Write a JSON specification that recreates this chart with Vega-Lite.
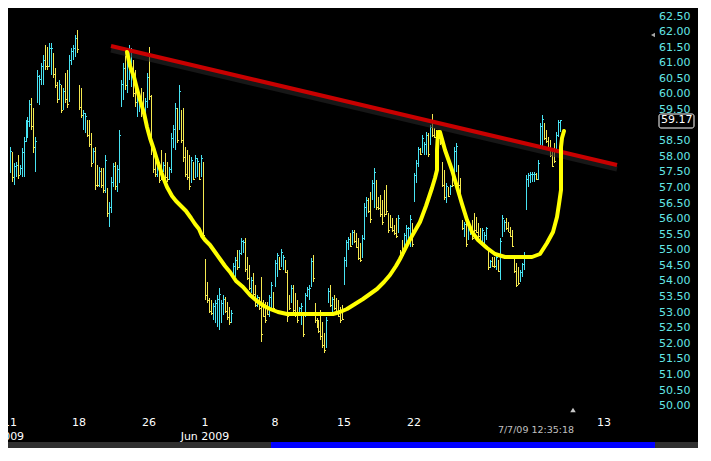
{
"$schema": "https://vega.github.io/schema/vega-lite/v6.json",
"width": 690,
"height": 440,
"autosize": {"type": "none"},
"padding": {"left": 8, "top": 8, "right": 13, "bottom": 13},
"background": "#ffffff",
"config": {
"view": {"fill": "#000000", "stroke": null},
"font": "DejaVu Sans",
"axis": {"disable": true}
},
"datasets": {
"bars": [
{"n":0,"o":57.6,"h":58.32,"l":57.47,"c":58.2},
{"n":1,"o":58.1,"h":58.16,"l":57.2,"c":57.35},
{"n":2,"o":57.2,"h":57.8,"l":57.09,"c":57.7},
{"n":3,"o":57.45,"h":57.84,"l":57.36,"c":57.75},
{"n":4,"o":57.95,"h":58.05,"l":57.28,"c":57.4},
{"n":5,"o":57.45,"h":57.73,"l":57.41,"c":57.65},
{"n":6,"o":57.5,"h":58.28,"l":57.36,"c":58.15},
{"n":7,"o":57.6,"h":58.64,"l":57.36,"c":58.5},
{"n":8,"o":58.6,"h":59.18,"l":58.48,"c":59.05},
{"n":9,"o":58.75,"h":59.28,"l":58.6,"c":59.15},
{"n":10,"o":59.1,"h":59.82,"l":58.96,"c":59.7},
{"n":11,"o":59.75,"h":59.88,"l":58.86,"c":59.0},
{"n":12,"o":59.4,"h":59.56,"l":58.12,"c":58.3},
{"n":13,"o":57.7,"h":58.64,"l":57.52,"c":58.5},
{"n":14,"o":59.85,"h":60.78,"l":59.72,"c":60.6},
{"n":15,"o":59.8,"h":60.62,"l":59.66,"c":60.5},
{"n":16,"o":60.4,"h":61.01,"l":60.3,"c":60.9},
{"n":17,"o":60.45,"h":61.26,"l":60.3,"c":61.1},
{"n":18,"o":61.45,"h":61.59,"l":60.78,"c":60.9},
{"n":19,"o":61.4,"h":61.53,"l":60.78,"c":60.9},
{"n":20,"o":61.0,"h":61.65,"l":60.89,"c":61.5},
{"n":21,"o":60.8,"h":61.65,"l":60.62,"c":61.5},
{"n":22,"o":61.2,"h":61.33,"l":60.53,"c":60.65},
{"n":23,"o":60.75,"h":60.85,"l":60.21,"c":60.3},
{"n":24,"o":60.3,"h":60.41,"l":59.72,"c":59.85},
{"n":25,"o":59.9,"h":60.46,"l":59.82,"c":60.35},
{"n":26,"o":60.2,"h":60.3,"l":59.4,"c":59.5},
{"n":27,"o":59.6,"h":60.21,"l":59.5,"c":60.1},
{"n":28,"o":60.55,"h":60.69,"l":59.72,"c":59.85},
{"n":29,"o":60.6,"h":60.78,"l":59.56,"c":59.7},
{"n":30,"o":59.9,"h":61.26,"l":59.77,"c":61.1},
{"n":31,"o":61.0,"h":61.49,"l":60.94,"c":61.4},
{"n":32,"o":61.15,"h":61.59,"l":61.1,"c":61.5},
{"n":33,"o":61.3,"h":61.91,"l":61.21,"c":61.8},
{"n":34,"o":61.95,"h":62.07,"l":61.33,"c":61.45},
{"n":35,"o":60.2,"h":60.3,"l":59.5,"c":59.6},
{"n":36,"o":60.1,"h":60.21,"l":59.24,"c":59.35},
{"n":37,"o":58.95,"h":59.5,"l":58.86,"c":59.4},
{"n":38,"o":58.85,"h":59.4,"l":58.76,"c":59.3},
{"n":39,"o":59.1,"h":59.18,"l":58.63,"c":58.7},
{"n":40,"o":59.05,"h":59.18,"l":58.31,"c":58.4},
{"n":41,"o":58.6,"h":58.76,"l":57.67,"c":57.8},
{"n":42,"o":57.85,"h":58.28,"l":57.8,"c":58.2},
{"n":43,"o":58.2,"h":58.31,"l":56.93,"c":57.1},
{"n":44,"o":57.65,"h":57.73,"l":57.03,"c":57.1},
{"n":45,"o":57.1,"h":57.67,"l":57.03,"c":57.55},
{"n":46,"o":57.55,"h":57.64,"l":57.0,"c":57.1},
{"n":47,"o":57.5,"h":57.64,"l":56.83,"c":56.95},
{"n":48,"o":57.0,"h":58.05,"l":56.83,"c":57.9},
{"n":49,"o":56.9,"h":57.0,"l":56.06,"c":56.2},
{"n":50,"o":55.85,"h":56.55,"l":55.74,"c":56.4},
{"n":51,"o":56.3,"h":57.35,"l":56.19,"c":57.2},
{"n":52,"o":57.15,"h":57.8,"l":57.03,"c":57.7},
{"n":53,"o":57.7,"h":57.83,"l":56.93,"c":57.05},
{"n":54,"o":57.0,"h":57.73,"l":56.87,"c":57.6},
{"n":55,"o":57.3,"h":58.86,"l":57.16,"c":58.7},
{"n":56,"o":59.7,"h":60.46,"l":59.6,"c":60.35},
{"n":57,"o":59.95,"h":61.01,"l":59.82,"c":60.85},
{"n":58,"o":61.2,"h":61.33,"l":60.14,"c":60.3},
{"n":59,"o":60.2,"h":61.43,"l":60.05,"c":61.3},
{"n":60,"o":60.6,"h":61.59,"l":60.46,"c":61.45},
{"n":61,"o":60.4,"h":61.49,"l":60.24,"c":61.35},
{"n":62,"o":60.95,"h":61.1,"l":59.92,"c":60.05},
{"n":63,"o":60.65,"h":60.78,"l":59.6,"c":59.75},
{"n":64,"o":59.35,"h":60.14,"l":59.27,"c":60.05},
{"n":65,"o":59.5,"h":59.92,"l":59.44,"c":59.85},
{"n":66,"o":60.1,"h":60.21,"l":59.27,"c":59.4},
{"n":67,"o":60.0,"h":60.08,"l":59.4,"c":59.5},
{"n":68,"o":59.4,"h":59.88,"l":59.34,"c":59.8},
{"n":69,"o":59.7,"h":60.69,"l":59.56,"c":60.55},
{"n":70,"o":60.6,"h":61.52,"l":59.82,"c":59.95},
{"n":71,"o":59.85,"h":59.98,"l":58.05,"c":58.25},
{"n":72,"o":58.2,"h":58.31,"l":57.48,"c":57.6},
{"n":73,"o":58.0,"h":58.12,"l":57.35,"c":57.45},
{"n":74,"o":57.4,"h":57.89,"l":57.35,"c":57.8},
{"n":75,"o":57.7,"h":57.8,"l":57.16,"c":57.25},
{"n":76,"o":58.1,"h":58.22,"l":57.25,"c":57.35},
{"n":77,"o":57.55,"h":57.83,"l":57.51,"c":57.75},
{"n":78,"o":58.0,"h":58.12,"l":57.25,"c":57.35},
{"n":79,"o":57.75,"h":57.83,"l":57.19,"c":57.3},
{"n":80,"o":57.3,"h":57.67,"l":57.25,"c":57.6},
{"n":81,"o":57.6,"h":58.76,"l":57.48,"c":58.6},
{"n":82,"o":58.4,"h":59.02,"l":58.28,"c":58.9},
{"n":83,"o":58.35,"h":59.72,"l":58.22,"c":59.55},
{"n":84,"o":59.45,"h":59.56,"l":58.44,"c":58.55},
{"n":85,"o":59.0,"h":60.3,"l":58.86,"c":60.1},
{"n":86,"o":59.4,"h":59.5,"l":58.44,"c":58.55},
{"n":87,"o":59.4,"h":59.56,"l":57.83,"c":58.0},
{"n":88,"o":58.2,"h":58.31,"l":57.35,"c":57.45},
{"n":89,"o":58.1,"h":58.22,"l":57.25,"c":57.35},
{"n":90,"o":57.9,"h":58.05,"l":56.93,"c":57.05},
{"n":91,"o":57.25,"h":57.99,"l":57.16,"c":57.9},
{"n":92,"o":57.75,"h":57.83,"l":57.25,"c":57.3},
{"n":93,"o":57.4,"h":58.05,"l":57.32,"c":57.95},
{"n":94,"o":57.4,"h":57.96,"l":57.35,"c":57.85},
{"n":95,"o":57.7,"h":57.8,"l":57.25,"c":57.3},
{"n":96,"o":57.4,"h":58.05,"l":57.35,"c":57.95},
{"n":97,"o":57.7,"h":57.83,"l":55.39,"c":55.5},
{"n":98,"o":54.6,"h":54.72,"l":53.4,"c":53.55},
{"n":99,"o":53.9,"h":53.98,"l":53.3,"c":53.4},
{"n":100,"o":53.4,"h":53.46,"l":52.98,"c":53.05},
{"n":101,"o":53.35,"h":53.4,"l":52.92,"c":53.0},
{"n":102,"o":52.85,"h":53.3,"l":52.76,"c":53.2},
{"n":103,"o":52.8,"h":53.4,"l":52.66,"c":53.3},
{"n":104,"o":52.7,"h":53.56,"l":52.53,"c":53.45},
{"n":105,"o":52.6,"h":53.79,"l":52.44,"c":53.6},
{"n":106,"o":52.8,"h":53.4,"l":52.66,"c":53.3},
{"n":107,"o":53.0,"h":53.56,"l":52.92,"c":53.45},
{"n":108,"o":53.45,"h":53.5,"l":52.98,"c":53.05},
{"n":109,"o":53.25,"h":53.34,"l":52.76,"c":52.85},
{"n":110,"o":53.1,"h":53.18,"l":52.6,"c":52.7},
{"n":111,"o":52.7,"h":53.08,"l":52.66,"c":53.0},
{"n":112,"o":54.1,"h":54.59,"l":54.04,"c":54.5},
{"n":113,"o":54.2,"h":54.78,"l":54.14,"c":54.7},
{"n":114,"o":54.9,"h":55.01,"l":54.36,"c":54.45},
{"n":115,"o":54.5,"h":55.01,"l":54.43,"c":54.9},
{"n":116,"o":54.9,"h":55.39,"l":54.84,"c":55.3},
{"n":117,"o":54.95,"h":55.33,"l":54.91,"c":55.25},
{"n":118,"o":55.3,"h":55.39,"l":54.3,"c":54.4},
{"n":119,"o":54.7,"h":54.78,"l":54.04,"c":54.1},
{"n":120,"o":54.45,"h":54.52,"l":53.72,"c":53.8},
{"n":121,"o":53.7,"h":54.14,"l":53.62,"c":54.05},
{"n":122,"o":54.2,"h":54.27,"l":53.5,"c":53.6},
{"n":123,"o":53.8,"h":53.88,"l":53.18,"c":53.25},
{"n":124,"o":53.2,"h":53.56,"l":53.18,"c":53.5},
{"n":125,"o":53.45,"h":53.5,"l":53.08,"c":53.15},
{"n":126,"o":53.2,"h":54.14,"l":52.05,"c":52.3},
{"n":127,"o":53.35,"h":53.4,"l":52.85,"c":52.9},
{"n":128,"o":53.25,"h":53.34,"l":52.66,"c":52.75},
{"n":129,"o":53.3,"h":53.34,"l":52.92,"c":52.95},
{"n":130,"o":52.9,"h":53.56,"l":52.85,"c":53.5},
{"n":131,"o":53.2,"h":53.98,"l":53.08,"c":53.9},
{"n":132,"o":53.6,"h":53.66,"l":53.08,"c":53.15},
{"n":133,"o":53.9,"h":54.68,"l":53.82,"c":54.6},
{"n":134,"o":54.2,"h":54.91,"l":54.14,"c":54.85},
{"n":135,"o":54.75,"h":54.78,"l":54.36,"c":54.4},
{"n":136,"o":54.5,"h":55.04,"l":54.46,"c":54.95},
{"n":137,"o":54.4,"h":54.84,"l":54.36,"c":54.8},
{"n":138,"o":54.65,"h":54.68,"l":54.27,"c":54.3},
{"n":139,"o":54.3,"h":54.36,"l":52.69,"c":52.9},
{"n":140,"o":53.5,"h":53.56,"l":53.08,"c":53.15},
{"n":141,"o":53.35,"h":53.88,"l":53.3,"c":53.8},
{"n":142,"o":53.8,"h":53.88,"l":52.98,"c":53.1},
{"n":143,"o":53.55,"h":53.62,"l":52.85,"c":52.95},
{"n":144,"o":53.3,"h":53.4,"l":52.66,"c":52.75},
{"n":145,"o":52.95,"h":53.18,"l":52.92,"c":53.15},
{"n":146,"o":52.7,"h":53.3,"l":52.6,"c":53.2},
{"n":147,"o":52.9,"h":52.98,"l":52.21,"c":52.3},
{"n":148,"o":52.9,"h":53.62,"l":52.85,"c":53.55},
{"n":149,"o":53.55,"h":53.82,"l":53.5,"c":53.75},
{"n":150,"o":53.45,"h":53.88,"l":53.4,"c":53.8},
{"n":151,"o":53.9,"h":54.75,"l":53.82,"c":54.65},
{"n":152,"o":54.75,"h":54.84,"l":53.98,"c":54.1},
{"n":153,"o":53.25,"h":53.3,"l":52.66,"c":52.75},
{"n":154,"o":52.75,"h":52.82,"l":52.5,"c":52.55},
{"n":155,"o":52.7,"h":52.76,"l":52.34,"c":52.4},
{"n":156,"o":52.95,"h":53.08,"l":52.12,"c":52.25},
{"n":157,"o":52.6,"h":52.69,"l":51.86,"c":51.95},
{"n":158,"o":52.25,"h":52.34,"l":51.7,"c":51.8},
{"n":159,"o":51.95,"h":52.85,"l":51.86,"c":52.75},
{"n":160,"o":53.35,"h":53.79,"l":53.3,"c":53.7},
{"n":161,"o":53.8,"h":53.88,"l":53.18,"c":53.25},
{"n":162,"o":53.05,"h":53.5,"l":52.98,"c":53.45},
{"n":163,"o":53.5,"h":53.56,"l":53.08,"c":53.15},
{"n":164,"o":53.4,"h":53.46,"l":52.98,"c":53.05},
{"n":165,"o":53.35,"h":53.4,"l":52.85,"c":52.9},
{"n":166,"o":53.1,"h":53.18,"l":52.66,"c":52.75},
{"n":167,"o":53.15,"h":53.24,"l":52.76,"c":52.8},
{"n":168,"o":53.95,"h":54.78,"l":53.88,"c":54.7},
{"n":169,"o":54.55,"h":55.33,"l":54.46,"c":55.25},
{"n":170,"o":55.05,"h":55.42,"l":55.01,"c":55.35},
{"n":171,"o":55.5,"h":55.55,"l":55.1,"c":55.15},
{"n":172,"o":55.2,"h":55.65,"l":55.17,"c":55.6},
{"n":173,"o":55.6,"h":55.65,"l":55.23,"c":55.3},
{"n":174,"o":55.5,"h":55.55,"l":55.07,"c":55.1},
{"n":175,"o":55.3,"h":55.39,"l":54.68,"c":54.75},
{"n":176,"o":55.15,"h":55.23,"l":54.62,"c":54.7},
{"n":177,"o":54.8,"h":55.49,"l":54.75,"c":55.4},
{"n":178,"o":55.45,"h":56.51,"l":55.33,"c":56.4},
{"n":179,"o":56.15,"h":56.71,"l":56.06,"c":56.6},
{"n":180,"o":56.6,"h":56.67,"l":56.19,"c":56.25},
{"n":181,"o":56.75,"h":56.87,"l":55.87,"c":56.0},
{"n":182,"o":56.7,"h":57.25,"l":56.61,"c":57.15},
{"n":183,"o":56.5,"h":57.64,"l":56.35,"c":57.5},
{"n":184,"o":57.15,"h":57.25,"l":56.29,"c":56.4},
{"n":185,"o":56.65,"h":56.71,"l":56.29,"c":56.35},
{"n":186,"o":56.7,"h":56.77,"l":56.06,"c":56.15},
{"n":187,"o":56.5,"h":56.61,"l":55.81,"c":55.9},
{"n":188,"o":56.85,"h":56.93,"l":56.06,"c":56.15},
{"n":189,"o":57.0,"h":57.09,"l":56.13,"c":56.25},
{"n":190,"o":56.1,"h":56.19,"l":55.55,"c":55.65},
{"n":191,"o":56.05,"h":56.13,"l":55.71,"c":55.75},
{"n":192,"o":55.95,"h":56.03,"l":55.58,"c":55.65},
{"n":193,"o":55.75,"h":55.81,"l":55.49,"c":55.55},
{"n":194,"o":55.95,"h":56.03,"l":55.39,"c":55.45},
{"n":195,"o":55.6,"h":56.13,"l":55.55,"c":56.05},
{"n":196,"o":54.95,"h":55.01,"l":54.68,"c":54.75},
{"n":197,"o":55.25,"h":55.33,"l":54.78,"c":54.85},
{"n":198,"o":55.05,"h":55.55,"l":55.01,"c":55.5},
{"n":199,"o":55.2,"h":55.81,"l":55.1,"c":55.7},
{"n":200,"o":55.4,"h":55.74,"l":55.33,"c":55.7},
{"n":201,"o":55.2,"h":56.13,"l":55.1,"c":56.0},
{"n":202,"o":55.8,"h":55.87,"l":55.1,"c":55.2},
{"n":203,"o":56.65,"h":57.48,"l":56.55,"c":57.4},
{"n":204,"o":57.25,"h":57.89,"l":57.16,"c":57.8},
{"n":205,"o":57.75,"h":58.31,"l":57.67,"c":58.25},
{"n":206,"o":58.25,"h":58.28,"l":58.05,"c":58.1},
{"n":207,"o":58.2,"h":58.7,"l":58.12,"c":58.6},
{"n":208,"o":58.1,"h":58.47,"l":58.05,"c":58.4},
{"n":209,"o":58.15,"h":58.79,"l":58.05,"c":58.7},
{"n":210,"o":58.7,"h":58.76,"l":57.99,"c":58.1},
{"n":211,"o":58.45,"h":59.02,"l":58.38,"c":58.95},
{"n":212,"o":59.0,"h":59.37,"l":58.63,"c":58.7},
{"n":213,"o":58.85,"h":58.92,"l":58.6,"c":58.65},
{"n":214,"o":58.8,"h":58.86,"l":58.44,"c":58.5},
{"n":215,"o":58.8,"h":58.86,"l":58.6,"c":58.65},
{"n":216,"o":58.7,"h":58.79,"l":58.38,"c":58.45},
{"n":217,"o":57.75,"h":57.83,"l":57.03,"c":57.1},
{"n":218,"o":57.5,"h":57.57,"l":56.61,"c":56.7},
{"n":219,"o":56.6,"h":57.16,"l":56.51,"c":57.05},
{"n":220,"o":57.0,"h":57.03,"l":56.71,"c":56.75},
{"n":221,"o":56.8,"h":57.09,"l":56.77,"c":57.05},
{"n":222,"o":57.6,"h":57.67,"l":57.03,"c":57.1},
{"n":223,"o":57.45,"h":58.31,"l":57.35,"c":58.2},
{"n":224,"o":57.6,"h":58.44,"l":57.51,"c":58.35},
{"n":225,"o":57.65,"h":57.73,"l":57.03,"c":57.1},
{"n":226,"o":57.25,"h":57.32,"l":56.61,"c":56.7},
{"n":227,"o":55.95,"h":55.97,"l":55.65,"c":55.7},
{"n":228,"o":55.45,"h":55.9,"l":55.42,"c":55.85},
{"n":229,"o":55.8,"h":55.87,"l":55.1,"c":55.2},
{"n":230,"o":55.4,"h":55.97,"l":55.33,"c":55.9},
{"n":231,"o":55.5,"h":55.81,"l":55.49,"c":55.75},
{"n":232,"o":55.9,"h":55.97,"l":55.33,"c":55.4},
{"n":233,"o":56.1,"h":56.19,"l":55.58,"c":55.65},
{"n":234,"o":56.0,"h":56.06,"l":55.55,"c":55.6},
{"n":235,"o":55.8,"h":55.87,"l":55.39,"c":55.45},
{"n":236,"o":55.65,"h":55.71,"l":55.23,"c":55.3},
{"n":237,"o":55.3,"h":55.71,"l":55.26,"c":55.65},
{"n":238,"o":55.15,"h":55.58,"l":55.1,"c":55.5},
{"n":239,"o":55.4,"h":55.74,"l":55.33,"c":55.7},
{"n":240,"o":55.0,"h":55.1,"l":54.36,"c":54.45},
{"n":241,"o":54.45,"h":54.68,"l":54.43,"c":54.65},
{"n":242,"o":54.7,"h":54.78,"l":54.46,"c":54.5},
{"n":243,"o":54.7,"h":54.78,"l":54.43,"c":54.5},
{"n":244,"o":54.4,"h":54.84,"l":54.36,"c":54.8},
{"n":245,"o":54.6,"h":54.68,"l":54.3,"c":54.35},
{"n":246,"o":54.15,"h":55.39,"l":54.04,"c":55.3},
{"n":247,"o":55.5,"h":56.13,"l":55.42,"c":56.05},
{"n":248,"o":55.65,"h":55.97,"l":55.58,"c":55.9},
{"n":249,"o":55.95,"h":56.03,"l":55.65,"c":55.7},
{"n":250,"o":55.85,"h":55.9,"l":55.58,"c":55.6},
{"n":251,"o":55.7,"h":55.74,"l":55.42,"c":55.45},
{"n":252,"o":55.6,"h":55.65,"l":55.1,"c":55.15},
{"n":253,"o":54.7,"h":54.78,"l":54.27,"c":54.35},
{"n":254,"o":54.5,"h":54.59,"l":53.82,"c":53.9},
{"n":255,"o":54.4,"h":54.46,"l":53.88,"c":53.95},
{"n":256,"o":54.0,"h":54.36,"l":53.98,"c":54.3},
{"n":257,"o":54.2,"h":54.59,"l":54.14,"c":54.55},
{"n":258,"o":54.4,"h":54.94,"l":54.36,"c":54.85},
{"n":259,"o":56.4,"h":57.41,"l":56.29,"c":57.3},
{"n":260,"o":57.1,"h":57.48,"l":57.03,"c":57.4},
{"n":261,"o":57.2,"h":57.51,"l":57.16,"c":57.45},
{"n":262,"o":57.2,"h":57.51,"l":57.19,"c":57.45},
{"n":263,"o":57.25,"h":57.51,"l":57.19,"c":57.45},
{"n":264,"o":57.45,"h":57.48,"l":57.25,"c":57.3},
{"n":265,"o":57.3,"h":57.89,"l":57.25,"c":57.8},
{"n":266,"o":58.4,"h":59.08,"l":58.31,"c":59.0},
{"n":267,"o":58.4,"h":59.34,"l":58.31,"c":59.2},
{"n":268,"o":59.0,"h":59.08,"l":58.54,"c":58.6},
{"n":269,"o":58.8,"h":58.86,"l":58.44,"c":58.5},
{"n":270,"o":58.6,"h":58.63,"l":58.22,"c":58.25},
{"n":271,"o":58.5,"h":58.54,"l":57.99,"c":58.05},
{"n":272,"o":58.15,"h":58.22,"l":57.67,"c":57.7},
{"n":273,"o":58.35,"h":58.44,"l":57.8,"c":57.85},
{"n":274,"o":58.3,"h":58.79,"l":58.22,"c":58.7},
{"n":275,"o":58.7,"h":59.18,"l":58.63,"c":59.1},
{"n":276,"o":58.85,"h":59.18,"l":58.79,"c":59.17}
],
"trend": [{"n":50.65,"p":61.55},{"n":304.8,"p":57.73}],
"cup": [
{"k":1,"n":58.68,"p":61.36},{"k":2,"n":60.44,"p":60.91},{"k":3,"n":62.19,"p":60.56},{"k":4,"n":63.95,"p":60.17},
{"k":5,"n":65.46,"p":59.82},{"k":6,"n":67.21,"p":59.4},{"k":7,"n":68.97,"p":58.95},{"k":8,"n":70.47,"p":58.6},
{"k":9,"n":72.23,"p":58.22},{"k":10,"n":74.49,"p":57.8},{"k":11,"n":76.99,"p":57.35},{"k":12,"n":79.0,"p":57.03},
{"k":13,"n":81.26,"p":56.74},{"k":14,"n":83.52,"p":56.58},{"k":15,"n":86.28,"p":56.4},{"k":16,"n":88.54,"p":56.26},
{"k":17,"n":91.04,"p":56.03},{"k":18,"n":93.05,"p":55.84},{"k":19,"n":94.81,"p":55.68},{"k":20,"n":96.31,"p":55.45},
{"k":21,"n":98.07,"p":55.33},{"k":22,"n":100.58,"p":55.17},{"k":23,"n":103.09,"p":54.94},{"k":24,"n":105.59,"p":54.72},
{"k":25,"n":108.1,"p":54.49},{"k":26,"n":110.61,"p":54.3},{"k":27,"n":113.62,"p":54.01},{"k":28,"n":117.13,"p":53.82},
{"k":29,"n":120.65,"p":53.56},{"k":30,"n":124.16,"p":53.37},{"k":31,"n":127.67,"p":53.21},{"k":32,"n":130.68,"p":53.11},
{"k":33,"n":134.69,"p":53.01},{"k":34,"n":139.21,"p":52.97},{"k":35,"n":143.22,"p":52.95},{"k":36,"n":153.26,"p":52.94},
{"k":37,"n":162.29,"p":52.94},{"k":38,"n":165.81,"p":53.01},{"k":39,"n":169.32,"p":53.11},{"k":40,"n":173.33,"p":53.27},
{"k":41,"n":177.34,"p":53.45},{"k":42,"n":180.86,"p":53.59},{"k":43,"n":184.37,"p":53.77},{"k":44,"n":187.88,"p":53.98},
{"k":45,"n":190.89,"p":54.2},{"k":46,"n":193.9,"p":54.49},{"k":47,"n":195.91,"p":54.72},{"k":48,"n":197.92,"p":54.97},
{"k":49,"n":199.92,"p":55.23},{"k":50,"n":201.93,"p":55.45},{"k":51,"n":203.94,"p":55.68},{"k":52,"n":205.95,"p":55.9},
{"k":53,"n":207.45,"p":56.16},{"k":54,"n":208.71,"p":56.42},{"k":55,"n":210.21,"p":56.71},{"k":56,"n":211.97,"p":56.99},
{"k":57,"n":213.47,"p":57.32},{"k":58,"n":214.48,"p":57.57},{"k":59,"n":214.63,"p":58.22},{"k":60,"n":214.73,"p":58.79},
{"k":61,"n":215.73,"p":58.81},{"k":62,"n":218.49,"p":58.22},{"k":63,"n":221.85,"p":57.57},{"k":64,"n":224.36,"p":57.04},
{"k":65,"n":226.87,"p":56.5},{"k":66,"n":229.38,"p":55.97},{"k":67,"n":231.89,"p":55.59},{"k":68,"n":235.2,"p":55.33},
{"k":69,"n":239.41,"p":55.06},{"k":70,"n":243.58,"p":54.88},{"k":71,"n":248.6,"p":54.79},{"k":72,"n":253.61,"p":54.77},
{"k":73,"n":261.99,"p":54.77},{"k":74,"n":266.16,"p":54.88},{"k":75,"n":269.52,"p":55.22},{"k":76,"n":272.83,"p":55.59},
{"k":77,"n":274.54,"p":56.07},{"k":78,"n":275.69,"p":56.5},{"k":79,"n":276.7,"p":56.93},{"k":80,"n":276.7,"p":57.68},
{"k":81,"n":276.7,"p":58.32},{"k":82,"n":277.35,"p":58.59},{"k":83,"n":278.2,"p":58.83}
],
"days": [{"n":0,"d":"11"},{"n":35,"d":"18"},{"n":70,"d":"26"},{"n":98,"d":"1"},{"n":133,"d":"8"},{"n":168,"d":"15"},{"n":203,"d":"22"},{"n":298,"d":"13"}],
"months": [{"n":-6.5,"m":"May 2009"},{"n":98,"m":"Jun 2009"}],
"prices": [{"v":50},{"v":50.5},{"v":51},{"v":51.5},{"v":52},{"v":52.5},{"v":53},{"v":53.5},{"v":54},{"v":54.5},{"v":55},{"v":55.5},{"v":56},{"v":56.5},{"v":57},{"v":57.5},{"v":58},{"v":58.5},{"v":59.5},{"v":60},{"v":60.5},{"v":61},{"v":61.5},{"v":62},{"v":62.5}]
},
"layer": [
{
"data": {"name": "bars"},
"mark": {"type": "rule", "strokeWidth": 1, "xOffset": 0.5},
"encoding": {
"x": {"field": "n", "type": "quantitative", "scale": {"domain": [-0.78, 345.4], "nice": false, "zero": false, "round": true}},
"y": {"field": "l", "type": "quantitative", "scale": {"domain": [48.657, 62.773], "nice": false, "zero": false, "round": true}},
"y2": {"field": "h"},
"color": {"condition": {"test": "datum.c >= datum.o", "value": "#48e2f2"}, "value": "#f4e850"}
}
},
{
"data": {"name": "bars"},
"mark": {"type": "rule", "strokeWidth": 1, "xOffset": 1, "x2Offset": 2, "yOffset": 0.5},
"encoding": {
"x": {"field": "n", "type": "quantitative"},
"x2": {"field": "n"},
"y": {"field": "c", "type": "quantitative"},
"color": {"condition": {"test": "datum.c >= datum.o", "value": "#48e2f2"}, "value": "#f4e850"}
}
},
{
"data": {"name": "trend"},
"mark": {"type": "line", "stroke": "#262626", "strokeWidth": 5, "opacity": 0.6, "yOffset": 4},
"encoding": {
"x": {"field": "n", "type": "quantitative"},
"y": {"field": "p", "type": "quantitative"}
}
},
{
"data": {"name": "trend"},
"mark": {"type": "line", "stroke": "#c80000", "strokeWidth": 4},
"encoding": {
"x": {"field": "n", "type": "quantitative"},
"y": {"field": "p", "type": "quantitative"}
}
},
{
"data": {"name": "cup"},
"mark": {"type": "line", "stroke": "#ffff00", "strokeWidth": 4, "strokeJoin": "round", "strokeCap": "round"},
"encoding": {
"x": {"field": "n", "type": "quantitative"},
"y": {"field": "p", "type": "quantitative"},
"order": {"field": "k", "type": "quantitative"}
}
},
{
"data": {"name": "prices"},
"mark": {"type": "text", "color": "#64e6e6", "font": "DejaVu Sans", "fontSize": 11, "align": "left", "baseline": "middle"},
"encoding": {
"x": {"datum": 325.6, "type": "quantitative"},
"y": {"field": "v", "type": "quantitative"},
"text": {"field": "v", "format": ".2f"}
}
},
{
"data": {"name": "days"},
"mark": {"type": "text", "color": "#ffffff", "font": "DejaVu Sans", "fontSize": 11, "align": "center", "baseline": "middle", "clip": true},
"encoding": {
"x": {"field": "n", "type": "quantitative"},
"y": {"datum": 49.46, "type": "quantitative"},
"text": {"field": "d"}
}
},
{
"data": {"name": "months"},
"mark": {"type": "text", "color": "#ffffff", "font": "DejaVu Sans", "fontSize": 11, "align": "center", "baseline": "middle", "clip": true},
"encoding": {
"x": {"field": "n", "type": "quantitative"},
"y": {"datum": 49.0, "type": "quantitative"},
"text": {"field": "m"}
}
},
{
"data": {"values": [{"part": "track"}]},
"mark": {"type": "rect", "fill": "#303030"},
"encoding": {
"x": {"datum": -0.78, "type": "quantitative"},
"x2": {"datum": 345.4},
"y": {"datum": 48.84, "type": "quantitative"},
"y2": {"datum": 48.657}
}
},
{
"data": {"values": [{"part": "thumb"}]},
"mark": {"type": "rect", "fill": "#0000ff"},
"encoding": {
"x": {"datum": 131.2, "type": "quantitative"},
"x2": {"datum": 323.9},
"y": {"datum": 48.84, "type": "quantitative"},
"y2": {"datum": 48.657}
}
},
{
"data": {"values": [{"label": "7/7/09 12:35:18"}]},
"mark": {"type": "text", "color": "#c0c0c0", "font": "DejaVu Sans", "fontSize": 9.5, "align": "center", "baseline": "middle"},
"encoding": {
"x": {"datum": 264.0, "type": "quantitative"},
"y": {"datum": 49.23, "type": "quantitative"},
"text": {"field": "label"}
}
},
{
"data": {"values": [{"marker": "up"}]},
"mark": {"type": "point", "shape": "triangle-up", "size": 30, "filled": true, "fill": "#c8c8c8", "strokeWidth": 0, "opacity": 1},
"encoding": {
"x": {"datum": 282.6, "type": "quantitative"},
"y": {"datum": 49.89, "type": "quantitative"}
}
},
{
"data": {"values": [{"marker": "left"}]},
"mark": {"type": "point", "shape": "triangle-left", "size": 22, "filled": true, "fill": "#a8a8a8", "strokeWidth": 0, "opacity": 1},
"encoding": {
"x": {"datum": 323.0, "type": "quantitative"},
"y": {"datum": 61.91, "type": "quantitative"}
}
},
{
"data": {"values": [{"last": 59.17}]},
"mark": {"type": "rect", "fill": "#000000", "stroke": "#ffffff", "strokeWidth": 1, "cornerRadius": 2},
"encoding": {
"x": {"datum": 325.9, "type": "quantitative"},
"x2": {"datum": 343.4},
"y": {"datum": 59.37, "type": "quantitative"},
"y2": {"datum": 58.92}
}
},
{
"data": {"values": [{"last": 59.17}]},
"mark": {"type": "text", "color": "#ffffff", "font": "DejaVu Sans", "fontSize": 11, "align": "left", "baseline": "middle"},
"encoding": {
"x": {"datum": 326.6, "type": "quantitative"},
"y": {"field": "last", "type": "quantitative"},
"text": {"field": "last", "format": ".2f"}
}
}
]
}
